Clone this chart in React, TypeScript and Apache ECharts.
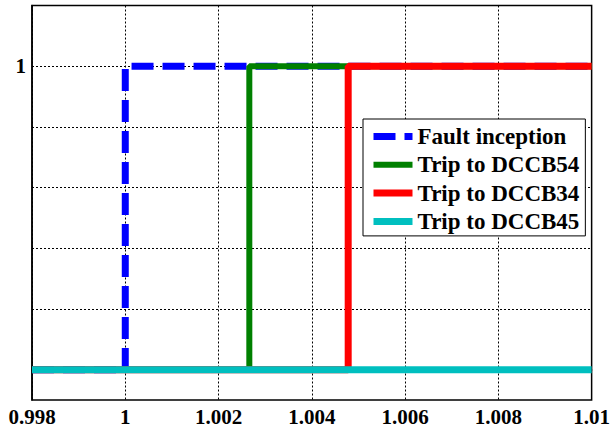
import React, { useEffect, useRef } from "react";
import * as echarts from "echarts";

const xTicks = { min: 0.998, max: 1.01, step: 0.002 };
const yRange = { min: -0.1, max: 1.2, step: 0.1 };
const faultInception: [number, number][] = [[0.998, 0], [1, 0], [1, 1], [1.01, 1]];
const tripDCCB54: [number, number][] = [[0.998, 0], [1.00266, 0], [1.00266, 1], [1.01, 1]];
const tripDCCB34: [number, number][] = [[0.998, 0], [1.00478, 0], [1.00478, 1], [1.01, 1]];
const tripDCCB45: [number, number][] = [[0.998, 0], [1.01, 0]];
const seriesNames = ["Fault inception", "Trip to DCCB54", "Trip to DCCB34", "Trip to DCCB45"];
const yLabels = [1];

const FONT = "Liberation Serif";

export default function App() {
  const ref = useRef<HTMLDivElement>(null);
  useEffect(() => {
    if (!ref.current) return;
    const chart = echarts.init(ref.current, undefined, { renderer: "svg" });
    const mk = (name: string, data: [number, number][], color: string, width: number, type: any) => ({
      name,
      type: "line",
      data,
      symbol: "none",
      lineStyle: { color, width, type },
      itemStyle: { color },
    });
    chart.setOption({
      animation: false,
      backgroundColor: "#fff",
      grid: {
        left: 32,
        top: 5.5,
        right: 21,
        bottom: 33,
        show: true,
        borderColor: "#000",
        borderWidth: 1.5,
        backgroundColor: "transparent",
      },
      xAxis: {
        type: "value",
        min: xTicks.min,
        max: xTicks.max,
        interval: xTicks.step,
        axisLine: { show: true, lineStyle: { color: "#000", width: 1.5 } },
        axisTick: { show: false },
        axisLabel: {
          color: "#000",
          fontFamily: FONT,
          fontWeight: "bold",
          fontSize: 21,
          margin: 6,
          formatter: (v: number) => String(parseFloat(v.toFixed(4))),
        },
        splitLine: { show: true, lineStyle: { color: "#000", width: 1, type: [2, 2] } },
      },
      yAxis: {
        type: "value",
        min: yRange.min,
        max: yRange.max,
        interval: yRange.step,
        axisLine: { show: true, lineStyle: { color: "#000", width: 1.5 } },
        axisTick: { show: false },
        axisLabel: {
          color: "#000",
          fontFamily: FONT,
          fontWeight: "bold",
          fontSize: 21,
          margin: 6,
          formatter: (v: number) => {
            const l = yLabels.find((y) => Math.abs(y - v) < 1e-9);
            return l === undefined ? "" : String(l);
          },
        },
        splitLine: {
          show: true,
          lineStyle: { color: ["rgba(0,0,0,0)", "#000"], width: 1, type: [2, 2] },
        },
      },
      legend: {
        left: 363,
        top: 119,
        orient: "vertical",
        padding: [6, 6, 3, 7],
        itemWidth: 39,
        itemHeight: 8,
        itemGap: 5.3,
        borderColor: "#000",
        borderWidth: 1,
        backgroundColor: "#fff",
        data: seriesNames,
        itemStyle: { opacity: 0 },
        lineStyle: { width: "inherit" },
        textStyle: { color: "#000", fontFamily: FONT, fontWeight: "bold", fontSize: 23 },
      },
      series: [
        mk(seriesNames[0], faultInception, "#0000FF", 7, [22, 9]),
        mk(seriesNames[1], tripDCCB54, "#008000", 6, "solid"),
        mk(seriesNames[2], tripDCCB34, "#FF0000", 7, "solid"),
        mk(seriesNames[3], tripDCCB45, "#00BFBF", 7, "solid"),
      ],
    });
    return () => chart.dispose();
  }, []);
  return <div ref={ref} style={{ width: 613, height: 433, position: "absolute", left: 0, top: 0 }} />;
}
